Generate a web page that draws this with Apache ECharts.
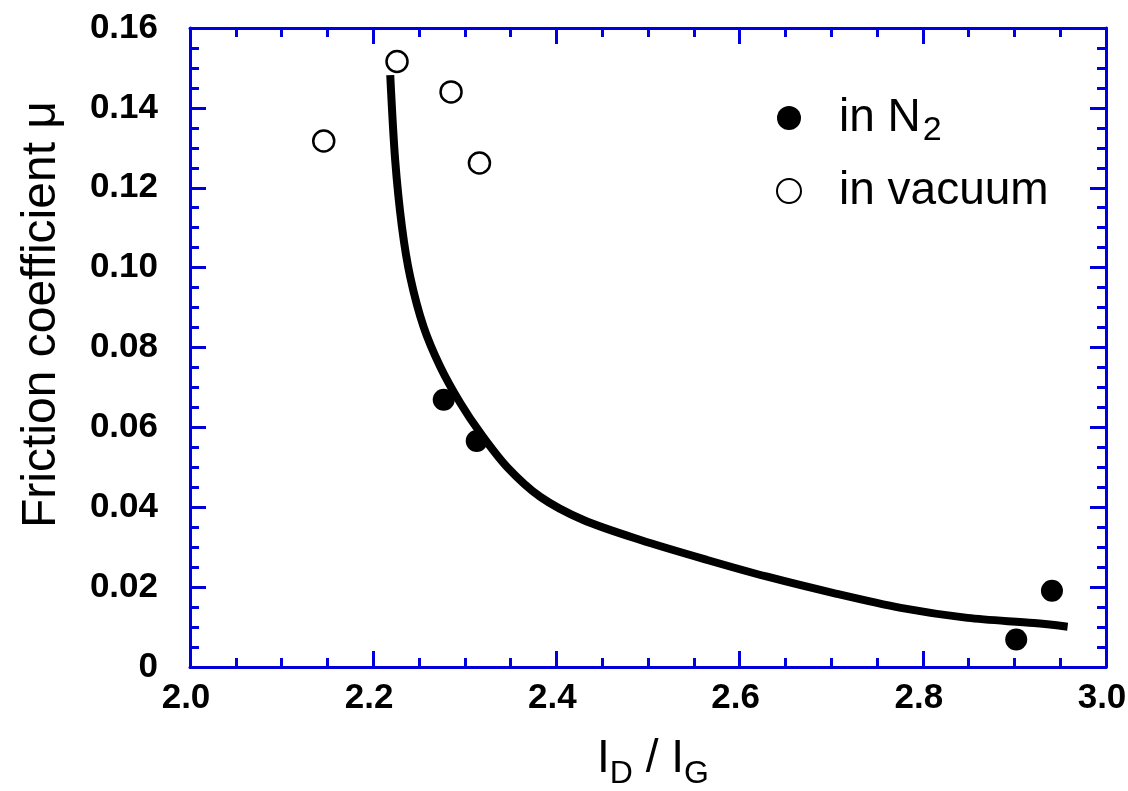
<!DOCTYPE html>
<html>
<head>
<meta charset="utf-8">
<script src="https://cdn.jsdelivr.net/npm/echarts@6/dist/echarts.min.js"></script>
<style>
  html, body { margin: 0; padding: 0; background: #fff; }
  #chart { width: 1128px; height: 791px; }
</style>
</head>
<body>
<div id="chart"></div>
<script>
// data
const n2X = [2.277, 2.313, 2.902, 2.941];
const n2Y = [0.0669, 0.0566, 0.0069, 0.0191];
const vacX = [2.146, 2.226, 2.285, 2.316];
const vacY = [0.1317, 0.1516, 0.1440, 0.1262];

// fitted curve (traced)
const curveX = [2.2186, 2.224, 2.2314, 2.2404, 2.255, 2.2732, 2.2951, 2.3169, 2.3461, 2.3825,
  2.4295, 2.4918, 2.5647, 2.6303, 2.7027, 2.776, 2.8489, 2.9213, 2.9581];
const curveY = [0.1482, 0.1269, 0.1102, 0.0977, 0.0852, 0.0752, 0.0661, 0.0586, 0.0501, 0.0426,
  0.0368, 0.0318, 0.0268, 0.0226, 0.0185, 0.0148, 0.0123, 0.0110, 0.0101];

const xMin = 2.0, xMax = 3.0, xStep = 0.2;
const yMin = 0, yMax = 0.16, yStep = 0.02;

const FONT = '"Liberation Sans", Arial, sans-serif';
const BLUE = '#0000dd';

const zip = (xs, ys) => xs.map((x, i) => [x, ys[i]]);

const chart = echarts.init(document.getElementById('chart'));

// shared frame settings for the four sides
const frameAxis = {
  axisLine: { show: true, onZero: false, lineStyle: { color: BLUE, width: 3 } },
  axisTick: { show: true, inside: true, length: 16, lineStyle: { color: BLUE, width: 3 } },
  minorTick: { show: true, splitNumber: 4, length: 9, lineStyle: { color: BLUE, width: 3 } },
  splitLine: { show: false }
};

const option = {
  backgroundColor: '#fff',
  animation: false,
  textStyle: { fontFamily: FONT },
  grid: { left: 190, right: 22, top: 28, bottom: 124, outerBoundsMode: 'none' },
  legend: {
    orient: 'vertical',
    left: 771,
    top: 90,
    itemWidth: 24,
    itemHeight: 24,
    itemGap: 20,
    data: ['in N2', 'in vacuum'],
    formatter: name => name === 'in N2' ? 'in N{sub|2}' : name,
    textStyle: {
      fontFamily: FONT,
      fontSize: 46,
      color: '#000',
      padding: [0, 0, 0, 33],
      rich: {
        sub: { fontFamily: FONT, fontSize: 34, verticalAlign: 'bottom', padding: [26, 0, 0, 2] }
      }
    }
  },
  xAxis: [
    Object.assign({}, frameAxis, {
      type: 'value', min: xMin, max: xMax, interval: xStep,
      name: 'I{sub|D} / I{sub|G}',
      nameLocation: 'middle',
      nameGap: 61,
      nameTextStyle: {
        fontFamily: FONT, fontSize: 46, color: '#000', padding: [0, 0, 0, 10],
        rich: { sub: { fontFamily: FONT, fontSize: 32, padding: [30, 0, 0, 0] } }
      },
      axisLabel: {
        margin: 14, color: '#000', fontFamily: FONT, fontSize: 35, fontWeight: 'bold',
        padding: [0, 8, 0, 0],
        formatter: v => v.toFixed(1)
      }
    }),
    Object.assign({}, frameAxis, {
      type: 'value', min: xMin, max: xMax, interval: xStep, position: 'top',
      axisLabel: { show: false }
    })
  ],
  yAxis: [
    Object.assign({}, frameAxis, {
      type: 'value', min: yMin, max: yMax, interval: yStep,
      name: 'Friction coefficient μ',
      nameLocation: 'middle',
      nameGap: 124,
      nameTextStyle: { fontFamily: FONT, fontSize: 48, color: '#000', padding: [0, 0, 0, 66] },
      axisLabel: {
        margin: 32, color: '#000', fontFamily: FONT, fontSize: 35, fontWeight: 'bold',
        formatter: v => v === 0 ? '0' : v.toFixed(2)
      }
    }),
    Object.assign({}, frameAxis, {
      type: 'value', min: yMin, max: yMax, interval: yStep, position: 'right',
      axisLabel: { show: false }
    })
  ],
  series: [
    {
      name: 'in N2',
      type: 'scatter',
      symbol: 'circle',
      symbolSize: 22,
      itemStyle: { color: '#000', opacity: 1 },
      data: zip(n2X, n2Y)
    },
    {
      name: 'in vacuum',
      type: 'scatter',
      symbol: 'circle',
      symbolSize: 21,
      itemStyle: { color: '#fff', borderColor: '#000', borderWidth: 2.5, opacity: 1 },
      data: zip(vacX, vacY)
    },
    {
      name: 'fit',
      type: 'line',
      smooth: 0.3,
      showSymbol: false,
      symbol: 'none',
      lineStyle: { color: '#000', width: 8, cap: 'butt' },
      data: zip(curveX, curveY)
    }
  ]
};

chart.setOption(option);
</script>
</body>
</html>
